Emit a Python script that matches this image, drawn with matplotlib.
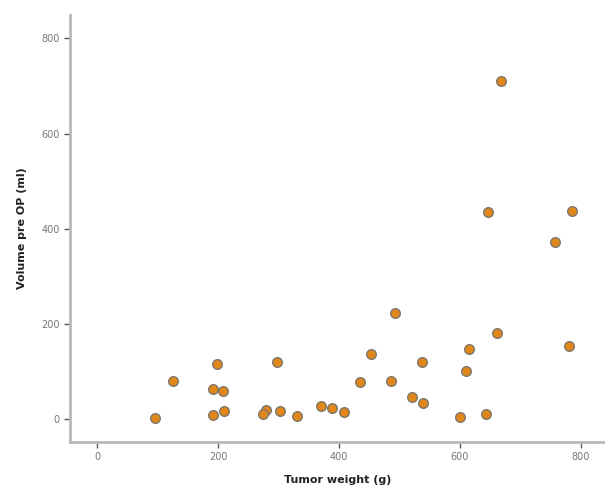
import numpy as np
import matplotlib.pyplot as plt

# tumor weight (g) vs pre-op volume (ml)
tumor_weight = [96, 125, 199, 191, 208, 191, 210,
                297, 280, 275, 302, 330, 370, 389, 409,
                435, 453, 486, 492, 521, 537, 539,
                601, 611, 615, 644, 662,
                647, 669, 758, 780, 785]
volume_pre_op = [3, 80, 116, 64, 59, 8, 18,
                 120, 20, 10, 17, 6, 27, 24, 14,
                 78, 136, 80, 223, 47, 121, 33,
                 5, 101, 147, 10, 182,
                 435, 710, 373, 154, 438]

x_ticks = [0, 200, 400, 600, 800]
y_ticks = [0, 200, 400, 600, 800]

fig = plt.figure(figsize=(6.05, 4.91), dpi=100)
ax = fig.add_axes([0.1157, 0.0998, 0.884, 0.8697])

ax.scatter(tumor_weight, volume_pre_op, s=48, c='#e0861a',
           edgecolors='#7d776c', linewidths=1.0, zorder=3)

ax.set_xlim(-45, 840)
ax.set_ylim(-48, 849)
ax.set_xticks(x_ticks)
ax.set_yticks(y_ticks)

for side in ['top', 'right']:
    ax.spines[side].set_visible(False)
for side in ['left', 'bottom']:
    ax.spines[side].set_color('#b8b8b8')
    ax.spines[side].set_linewidth(2)

ax.tick_params(axis='both', colors='#555555', labelsize=7, length=4, width=1)
ax.tick_params(axis='both', labelcolor='#777777')

ax.set_xlabel('Tumor weight (g)', fontsize=8, fontweight='bold', color='#222222', labelpad=9)
ax.set_ylabel('Volume pre OP (ml)', fontsize=8, fontweight='bold', color='#222222', labelpad=10)

plt.savefig('out.png', dpi=100)
